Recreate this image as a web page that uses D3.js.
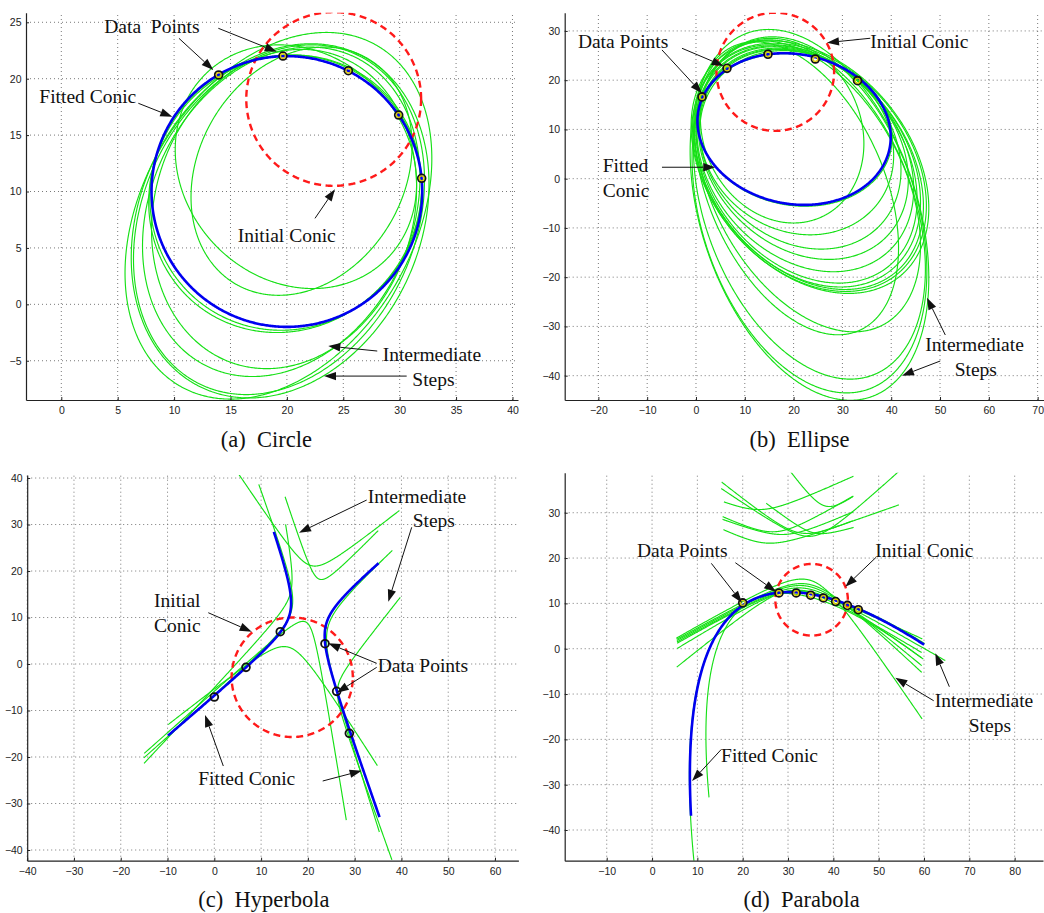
<!DOCTYPE html>
<html>
<head>
<meta charset="utf-8">
<script src="https://cdn.jsdelivr.net/npm/d3@7"></script>
<style>
  html,body{margin:0;padding:0;background:#fff;}
  svg{display:block;}
  .tick text{font-family:"Liberation Sans",Arial,Helvetica,sans-serif;font-size:10.5px;fill:#222;}
  .ann{font-family:"Liberation Serif","Times New Roman",serif;font-size:19.5px;fill:#111;white-space:pre;}
  .cap{font-family:"Liberation Serif","Times New Roman",serif;font-size:22.5px;fill:#111;white-space:pre;}
</style>
</head>
<body>
<svg id="chart" width="1044" height="913"></svg>
<script>
// ================= DATA =================
const captions = ["(a)  Circle", "(b)  Ellipse", "(c)  Hyperbola", "(d)  Parabola"];

// tick values
const ticksAX = [0, 5, 10, 15, 20, 25, 30, 35, 40];
const ticksAY = [-5, 0, 5, 10, 15, 20, 25];
const ticksBX = [-20, -10, 0, 10, 20, 30, 40, 50, 60, 70];
const ticksBY = [-40, -30, -20, -10, 0, 10, 20, 30];
const ticksCX = [-40, -30, -20, -10, 0, 10, 20, 30, 40, 50, 60];
const ticksCY = [-40, -30, -20, -10, 0, 10, 20, 30, 40];
const ticksDX = [-10, 0, 10, 20, 30, 40, 50, 60, 70, 80];
const ticksDY = [-40, -30, -20, -10, 0, 10, 20, 30];

// (a) circle — ellipses as [cx, cy, halfWidth, halfHeight, tiltDeg]
const circleDataX = [13.95, 19.65, 25.45, 29.91, 31.95];
const circleDataY = [20.33, 22.01, 20.71, 16.78, 11.17];
const circleFitted = [20.0, 10.0, 12.0, 12.0, 0];
const circleInitial = [24.15, 18.2, 7.75, 7.7, 0];
const circleSteps = [
  [19.25, 7.85, 13.6, 16.25, 18.2],
  [19.4, 7.4, 13.2, 15.7, 12],
  [19.3, 7.5, 12.9, 15.5, 13],
  [19.5, 8.2, 12.3, 14.6, 12],
  [19.75, 8.45, 11.75, 14.15, 7.6],
  [19.9, 9.9, 12.05, 12.2, 2],
  [19.85, 9.8, 12.1, 12.3, 3.5],
  [20.8, 12.2, 10.7, 10.8, -8],
  [21.3, 11.8, 9.8, 11.0, 12]
];

// (b) ellipse
const ellipseDataX = [1.23, 6.35, 14.75, 24.45, 33.1];
const ellipseDataY = [16.6, 22.4, 25.26, 24.3, 19.9];
const ellipseFitted = [20.1, 10.07, 19.8, 15.4, -6];
const ellipseInitial = [16.25, 21.7, 12.05, 12.0, 0];
const ellipseSteps = [
  [23.25, -7.35, 24.45, 37.65, -20],
  [23.25, -7.35, 24.05, 36.15, -18.5],
  [23.25, -6.25, 23.75, 34.45, -20.6],
  [20.6, -1.95, 20.9, 29.75, -24],
  [23.0, -1.55, 23.0, 29.55, -24],
  [23.35, 2.35, 24.35, 25.65, -19],
  [23.25, 2.3, 23.95, 25.2, -18],
  [23.05, 2.35, 23.55, 24.85, -18.5],
  [22.85, 2.5, 23.15, 24.5, -17],
  [22.65, 2.8, 22.65, 24.0, -17],
  [22.4, 3.8, 22.2, 22.7, -15],
  [22.0, 4.95, 21.5, 21.35, -14],
  [21.35, 5.95, 20.65, 20.25, -12],
  [20.65, 7.3, 19.85, 18.7, -8],
  [17.65, 9.75, 16.75, 18.75, -8],
  [20.3, 9.9, 19.9, 15.5, -6]
];

// (c) hyperbola — branches as [vertexX, vertexY, roundness, armA endX, armA endY, armB endX, armB endY]
const hypDataX = [0, 6.77, 14.1, 23.66, 26.15, 28.86];
const hypDataY = [-7.1, -0.72, 6.95, 4.37, -5.88, -14.9];
const hypFitted = [
  [23.9, 8.55, 3.56, 34.9, 22.3, 35.1, -33.1],
  [16.1, 10.65, 3.56, -9.8, -15.7, 13.2, 28.8]
];
const hypInitial = [16.65, -2.85, 12.95, 12.85, 0];
const hypSteps = [
  [21.0, 21.1, 2.5, 39.7, 32.8, 5.1, 40.6],
  [22.6, 18.2, 2.0, 35.1, 28.5, 15.0, 35.85],
  [19.4, 9.1, 2.4, 28.3, -33.5, -15, -19.1],
  [15.5, 3.7, 3.0, 35.06, -21.7, -10, -12.8],
  [16.5, 11.5, 3.2, -15, -20.4, 9.76, 38.86],
  [16.2, 15.0, 2.5, -15, -21.5, 15.5, 30.3],
  [24.3, 8.0, 3.4, 37.9, 24.9, 35.1, -36.3],
  [26.4, -5.0, 2.0, 39.7, 14.5, 37.9, -42.2]
];

// (d) parabola — parabolas as [vertexX, vertexY, axisTiltDeg, curvature, uStart, uEnd]
const parDataX = [20.0, 28.0, 31.8, 35.0, 37.8, 40.5, 43.1, 45.5];
const parDataY = [10.1, 12.3, 12.3, 11.8, 11.2, 10.4, 9.55, 8.6];
const parFitted = [21.4, 10.4, 28.5, 0.031, -33.8, 29.4];
const parInitial = [35.2, 10.8, 8.0, 7.9, 0];
const parStepsParabolic = [
  [21.3, 10.3, 28.8, 0.0305, -38.8, 29.6],
  [22.0, 10.6, 28.5, 0.04, -29.0, 27.1]
];
const parStepsCaps = [
  [34.5, 15.2, 4, 59.9, -15.3, 5.1, 2.7],
  [34.0, 14.3, 4, 59.9, -5.0, 5.1, 2.4],
  [33.5, 13.9, 4, 59.9, -3.5, 5.1, 2.1],
  [33.0, 13.4, 4, 59.9, -1.8, 5.1, 1.8],
  [32.0, 12.9, 4, 65.05, -2.4, 5.1, 0.3],
  [30.5, 12.8, 3.5, 59.9, 2.4, 5.1, -3.9],
  [31.5, 12.7, 4, 59.9, -0.6, 5.1, 1.5]
];
const parStepsUpper = [
  [23.8, 30.7, 3, 44.8, 37.9, 15.0, 32.0],
  [38.6, 31.4, 2.5, 44.8, 33.0, 30.1, 38.9],
  [33.0, 25.5, 3, 44.8, 27.8, 15.0, 36.6],
  [35.0, 24.8, 3, 54.7, 38.9, 15.0, 35.1],
  [27.0, 25.8, 3, 44.8, 33.5, 15.0, 28.8],
  [29.0, 25.2, 3, 44.8, 30.0, 15.0, 28.3],
  [25.3, 23.3, 3, 54.7, 31.6, 15.0, 26.0],
  [36.0, 25.5, 2, 44.8, 26.5, 24.9, 32.0]
];

// annotations (text [label, x, y], arrows [fromX, fromY, tipX, tipY]) in data units
const labelsA = [["Data  Points", 3.81, 24.03], ["Fitted Conic", -1.95, 17.87], ["Initial Conic", 15.64, 5.55], ["Intermediate", 28.49, -5.0], ["Steps", 31.12, -7.24]];
const arrowsA = [[10.43, 23.58, 13.48, 20.77], [13.92, 24.47, 19.1, 22.39], [6.83, 17.82, 9.84, 16.63], [22.49, 7.62, 24.26, 10.2], [28.01, -4.14, 23.67, -3.70], [30.62, -6.36, 23.29, -6.36]];
const labelsB = [["Data Points", -24.2, 26.6], ["Initial Conic", 35.71, 26.6], ["Fitted", -19.11, 1.42], ["Conic", -19.11, -3.66], ["Intermediate", 46.98, -34.93], ["Steps", 53.0, -40.07]];
const arrowsB = [[-6.97, 26.14, 1.23, 17.34], [-2.87, 26.48, 5.67, 22.89], [35.71, 28.51, 26.84, 27.62], [-6.97, 2.32, 3.95, 2.32], [51.08, -31.74, 47.33, -24.17], [50.05, -37.02, 42.2, -40.0]];
const labelsC = [["Intermediate", 32.79, 34.69], ["Steps", 42.4, 29.53], ["Initial", -12.9, 12.19], ["Conic", -12.9, 6.95], ["Data Points", 34.92, -1.66], ["Fitted Conic", -3.43, -26.02]];
const arrowsC = [[32.57, 35.27, 18.1, 28.24], [42.19, 29.4, 37.19, 13.4], [-1.29, 11.03, 7.99, 6.95], [34.71, 0.15, 24.36, 4.45], [34.71, -0.71, 26.16, -6.17], [1.92, -21.94, -1.99, -10.97], [23.17, -25.16, 31.5, -22.95]];
const labelsD = [["Data Points", -3.31, 20.16], ["Initial Conic", 49.26, 20.16], ["Intermediate", 62.37, -12.8], ["Steps", 69.87, -18.32], ["Fitted Conic", 15.22, -24.93]];
const arrowsD = [[13.08, 18.83, 19.85, 10.14], [18.38, 18.97, 27.35, 12.57], [49.42, 20.16, 42.64, 13.67], [62.14, -11.48, 53.67, -6.4], [65.59, -8.39, 62.5, -1.02], [15.29, -22.2, 8.82, -29.2]];

// ================= DRAWING =================
const GREEN = "#16e016", BLUE = "#0000f0", RED = "#ff1a1a";
const svg = d3.select("#chart");
const defs = svg.append("defs");

function unit(dx, dy) { const l = Math.hypot(dx, dy); return [dx / l, dy / l]; }

function ellipsePoints(e) {
  const [cx, cy, w, h, ph] = e, p = ph * Math.PI / 180;
  return d3.range(0, 721).map(i => { const t = i / 720 * 2 * Math.PI; return [cx + w * Math.cos(t), cy + h * Math.sin(t + p)]; });
}
function branchPoints(b) {
  const [vx, vy, r, ax, ay, bx, by] = b;
  let cx = vx, cy = vy, uA, uB;
  for (let i = 0; i < 8; i++) {
    uA = unit(ax - cx, ay - cy); uB = unit(bx - cx, by - cy);
    cx = vx - r * (uA[0] + uB[0]); cy = vy - r * (uA[1] + uB[1]);
  }
  uA = unit(ax - cx, ay - cy); uB = unit(bx - cx, by - cy);
  const k = r * r;
  const pEnd = Math.hypot(ax - cx, ay - cy), qEnd = Math.hypot(bx - cx, by - cy);
  const pStart = k / qEnd, n = 400;
  return d3.range(n + 1).map(i => {
    const p = pStart * Math.pow(pEnd / pStart, i / n), q = k / p;
    return [cx + p * uA[0] + q * uB[0], cy + p * uA[1] + q * uB[1]];
  });
}
function parabolaPoints(pb) {
  const [vx, vy, beta, c, u0, u1] = pb, b = beta * Math.PI / 180;
  const e = [Math.cos(b), Math.sin(b)], d = [Math.sin(b), -Math.cos(b)], n = 400;
  return d3.range(n + 1).map(i => { const u = u0 + (u1 - u0) * i / n; return [vx + u * e[0] + c * u * u * d[0], vy + u * e[1] + c * u * u * d[1]]; });
}

function drawPanel(cfg) {
  const x = d3.scaleLinear().domain(cfg.xd).range(cfg.xr);
  const y = d3.scaleLinear().domain(cfg.yd).range(cfg.yr);
  const g = svg.append("g");
  const id = "clip" + cfg.key;
  defs.append("clipPath").attr("id", id).append("rect")
    .attr("x", cfg.xr[0]).attr("y", cfg.yr[1])
    .attr("width", cfg.xr[1] - cfg.xr[0]).attr("height", cfg.yr[0] - cfg.yr[1]);

  // dotted grid
  const grid = g.append("g").attr("stroke", "#6a6a6a").attr("stroke-width", 0.9).attr("stroke-dasharray", "1,3");
  grid.selectAll("line.v").data(cfg.xt).join("line").attr("class", "v")
    .attr("x1", d => x(d)).attr("x2", d => x(d)).attr("y1", cfg.yr[0]).attr("y2", cfg.yr[1]);
  grid.selectAll("line.h").data(cfg.yt).join("line").attr("class", "h")
    .attr("y1", d => y(d)).attr("y2", d => y(d)).attr("x1", cfg.xr[0]).attr("x2", cfg.xr[1]);

  // curves
  const line = d3.line().x(d => x(d[0])).y(d => y(d[1]));
  const cg = g.append("g").attr("clip-path", `url(#${id})`).attr("fill", "none").attr("stroke-linejoin", "round");
  cfg.green.forEach(pts => cg.append("path").attr("d", line(pts)).attr("stroke", GREEN).attr("stroke-width", 1.15));
  cg.append("path").attr("d", line(cfg.initial)).attr("stroke", RED).attr("stroke-width", 2.4).attr("stroke-dasharray", "7,4.5");
  cfg.fitted.forEach(pts => cg.append("path").attr("d", line(pts)).attr("stroke", BLUE).attr("stroke-width", 2.6));

  // data points
  const pts = cfg.dx.map((v, i) => [v, cfg.dy[i]]);
  const mg = g.append("g").attr("fill", "none");
  mg.selectAll("circle.o").data(pts).join("circle").attr("class", "o")
    .attr("cx", d => x(d[0])).attr("cy", d => y(d[1])).attr("r", 3.9)
    .attr("stroke", "#111").attr("stroke-width", 1.8);
  if (cfg.yellow) {
    mg.selectAll("circle.i").data(pts).join("circle").attr("class", "i")
      .attr("cx", d => x(d[0])).attr("cy", d => y(d[1])).attr("r", 2.4)
      .attr("stroke", "#e0c800").attr("stroke-width", 1.2);
  }

  // axes
  const ax = d3.axisBottom(x).tickValues(cfg.xt).tickSizeInner(-3).tickSizeOuter(0).tickPadding(6.5).tickFormat(d3.format("d"));
  const ay = d3.axisLeft(y).tickValues(cfg.yt).tickSizeInner(-3).tickSizeOuter(0).tickPadding(4.5).tickFormat(d3.format("d"));
  const gx = g.append("g").attr("transform", `translate(0,${cfg.yr[0]})`).call(ax);
  const gy = g.append("g").attr("transform", `translate(${cfg.xr[0]},0)`).call(ay);
  [gx, gy].forEach(a => { a.select(".domain").attr("stroke", "#222").attr("stroke-width", 1.2); a.selectAll(".tick line").attr("stroke", "#222"); a.attr("font-size", null).attr("font-family", null); });

  // annotations
  const ag = g.append("g");
  cfg.labels.forEach(l => ag.append("text").attr("class", "ann").attr("x", x(l[1])).attr("y", y(l[2])).text(l[0]));
  cfg.arrows.forEach(a => {
    const x1 = x(a[0]), y1 = y(a[1]), x2 = x(a[2]), y2 = y(a[3]);
    const [ux, uy] = unit(x2 - x1, y2 - y1), L = 12, Wd = 4.2;
    const bx = x2 - ux * L, by = y2 - uy * L;
    ag.append("line").attr("x1", x1).attr("y1", y1).attr("x2", bx).attr("y2", by).attr("stroke", "#111").attr("stroke-width", 1);
    ag.append("path").attr("d", `M${x2},${y2}L${bx - uy * Wd},${by + ux * Wd}L${bx + uy * Wd},${by - ux * Wd}Z`).attr("fill", "#111");
  });

  // caption
  svg.append("text").attr("class", "cap").attr("text-anchor", "middle").attr("x", cfg.capX).attr("y", cfg.capY).text(cfg.caption);
}

drawPanel({
  key: "a", xd: [-3.13, 40.49], xr: [26, 518], yd: [-8.48, 25.85], yr: [400, 12.7],
  xt: ticksAX, yt: ticksAY,
  green: circleSteps.map(ellipsePoints), initial: ellipsePoints(circleInitial), fitted: [ellipsePoints(circleFitted)],
  dx: circleDataX, dy: circleDataY, yellow: true,
  labels: labelsA, arrows: arrowsA, caption: captions[0], capX: 266.3, capY: 447.3
});
drawPanel({
  key: "b", xd: [-26.9, 71.2], xr: [564.7, 1043.5], yd: [-44.94, 33.7], yr: [400, 12.7],
  xt: ticksBX, yt: ticksBY,
  green: ellipseSteps.map(ellipsePoints), initial: ellipsePoints(ellipseInitial), fitted: [ellipsePoints(ellipseFitted)],
  dx: ellipseDataX, dy: ellipseDataY, yellow: true,
  labels: labelsB, arrows: arrowsB, caption: captions[1], capX: 799.5, capY: 447.3
});
drawPanel({
  key: "c", xd: [-40, 65], xr: [27.2, 518.4], yd: [-42.3, 40.65], yr: [860.7, 475],
  xt: ticksCX, yt: ticksCY,
  green: hypSteps.map(branchPoints), initial: ellipsePoints(hypInitial), fitted: hypFitted.map(branchPoints),
  dx: hypDataX, dy: hypDataY, yellow: false,
  labels: labelsC, arrows: arrowsC, caption: captions[2], capX: 263.8, capY: 907.3
});
drawPanel({
  key: "d", xd: [-19.27, 86.25], xr: [564.7, 1043], yd: [-46.77, 38.83], yr: [860.7, 472.7],
  xt: ticksDX, yt: ticksDY,
  green: parStepsParabolic.map(parabolaPoints).concat(parStepsCaps.map(branchPoints), parStepsUpper.map(branchPoints)),
  initial: ellipsePoints(parInitial), fitted: [parabolaPoints(parFitted)],
  dx: parDataX, dy: parDataY, yellow: true,
  labels: labelsD, arrows: arrowsD, caption: captions[3], capX: 801.7, capY: 907.3
});
</script>
</body>
</html>
